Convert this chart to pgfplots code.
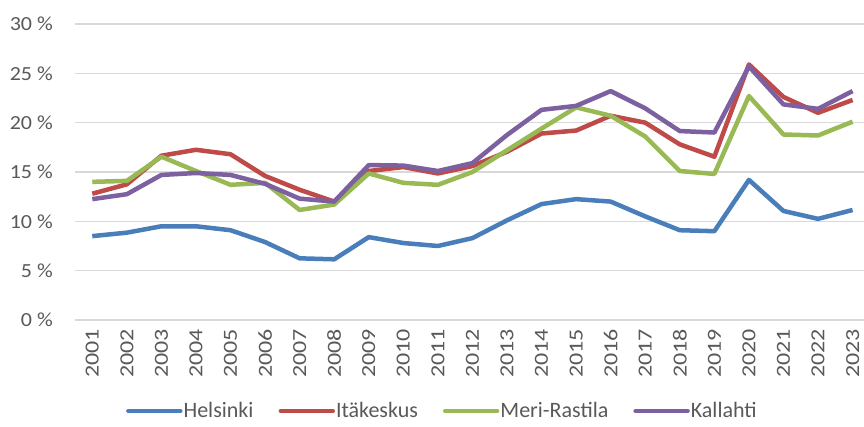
\documentclass[border=0pt]{standalone}
\usepackage{pgfplots}
\pgfplotsset{compat=1.18}
\usepackage{fontspec}
\setmainfont{Carlito}
\newfontfamily\xtickfont[FakeStretch=1.2]{Carlito}
\newfontfamily\ytickfont[FakeStretch=1.1]{Carlito}
\definecolor{txt}{HTML}{595959}
\definecolor{gridc}{HTML}{D9D9D9}
\definecolor{cblue}{HTML}{4A7EBB}
\definecolor{cred}{HTML}{BE4B48}
\definecolor{cgreen}{HTML}{98B954}
\definecolor{cpurple}{HTML}{7D60A0}
\begin{document}
\begin{tikzpicture}
\path[use as bounding box] (-75pt,-107pt) rectangle (789pt,320pt);
\begin{axis}[
  scale only axis,
  width=789pt, height=296pt,
  xmin=2000.5, xmax=2023.33,
  ymin=0, ymax=30,
  axis line style={draw=none},
  major tick length=0pt,
  ymajorgrids,
  grid style={gridc, line width=1.5pt},
  ytick={0,5,10,15,20,25,30},
  yticklabels={0 \%,5 \%,10 \%,15 \%,20 \%,25 \%,30 \%},
  yticklabel style={font=\ytickfont\fontsize{20}{22}\selectfont, text=txt, inner sep=0pt, anchor=east, xshift=-22pt},
  xtick={2001,2002,2003,2004,2005,2006,2007,2008,2009,2010,2011,2012,2013,2014,2015,2016,2017,2018,2019,2020,2021,2022,2023},
  xticklabels={2001,2002,2003,2004,2005,2006,2007,2008,2009,2010,2011,2012,2013,2014,2015,2016,2017,2018,2019,2020,2021,2022,2023},
  xticklabel style={font=\xtickfont\fontsize{20}{22}\selectfont, text=txt, rotate=90, anchor=east, inner sep=0pt, xshift=-9pt},
  legend columns=4,
  legend style={draw=none, fill=none, at={(0.465,-0.3074)}, anchor=center,
    font=\fontsize{22}{24}\selectfont, text=txt,
    /tikz/every even column/.append style={column sep=24pt},
    nodes={inner sep=1pt}},
  legend image code/.code={\draw[#1, line cap=round] (0pt,0pt) -- (52pt,0pt);},
  every axis plot/.append style={line width=4.5pt, line join=round, mark=none},
]
\addplot[cblue] coordinates {
(2001,8.5)(2002,8.85)(2003,9.5)(2004,9.5)(2005,9.1)(2006,7.9)(2007,6.25)(2008,6.15)
(2009,8.4)(2010,7.8)(2011,7.5)(2012,8.3)(2013,10.1)(2014,11.75)(2015,12.25)(2016,12.0)
(2017,10.5)(2018,9.1)(2019,9.0)(2020,14.2)(2021,11.05)(2022,10.25)(2023,11.15)};
\addlegendentry{Helsinki}
\addplot[cred] coordinates {
(2001,12.8)(2002,13.75)(2003,16.65)(2004,17.25)(2005,16.8)(2006,14.6)(2007,13.2)(2008,12.0)
(2009,15.1)(2010,15.5)(2011,14.85)(2012,15.6)(2013,17.05)(2014,18.9)(2015,19.2)(2016,20.7)
(2017,20.0)(2018,17.8)(2019,16.55)(2020,25.9)(2021,22.6)(2022,21.0)(2023,22.3)};
\addlegendentry{Itäkeskus}
\addplot[cgreen] coordinates {
(2001,14.0)(2002,14.1)(2003,16.55)(2004,15.1)(2005,13.7)(2006,13.9)(2007,11.15)(2008,11.7)
(2009,14.85)(2010,13.9)(2011,13.7)(2012,15.0)(2013,17.2)(2014,19.4)(2015,21.55)(2016,20.7)
(2017,18.6)(2018,15.1)(2019,14.8)(2020,22.7)(2021,18.8)(2022,18.7)(2023,20.1)};
\addlegendentry{Meri-Rastila}
\addplot[cpurple] coordinates {
(2001,12.25)(2002,12.75)(2003,14.7)(2004,14.9)(2005,14.7)(2006,13.8)(2007,12.3)(2008,12.0)
(2009,15.7)(2010,15.65)(2011,15.1)(2012,15.9)(2013,18.75)(2014,21.3)(2015,21.7)(2016,23.2)
(2017,21.45)(2018,19.15)(2019,19.0)(2020,25.7)(2021,21.85)(2022,21.4)(2023,23.2)};
\addlegendentry{Kallahti}
\end{axis}
\end{tikzpicture}
\end{document}
